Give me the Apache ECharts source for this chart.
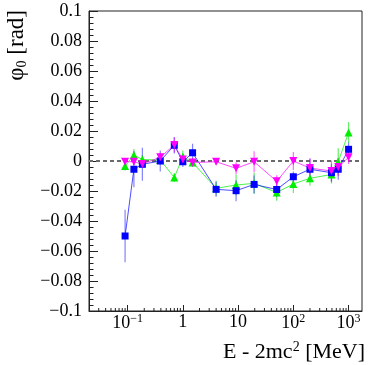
<!DOCTYPE html>
<html><head><meta charset="utf-8">
<script src="https://cdn.jsdelivr.net/npm/echarts@6/dist/echarts.min.js"></script>
<style>html,body{margin:0;padding:0;background:#fff}#c{width:374px;height:365px}</style>
</head><body><div id="c"></div>
<script>
const energies = [0.09, 0.13, 0.185, 0.39, 0.70, 1.0, 1.5, 4.0, 9.2, 19.5, 50, 100, 200, 490, 650, 1000];
const blueVals = [-0.050, -0.0055, -0.0022, 0.0, 0.0105, -0.0005, 0.0055, -0.0189, -0.0198, -0.0156, -0.019, -0.0105, -0.0055, -0.0078, -0.0055, 0.0078];
const blueErr  = [0.0175, 0.012, 0.011, 0.007, 0.0055, 0.0035, 0.006, 0.005, 0.007, 0.006, 0.005, 0.0035, 0.007, 0.006, 0.007, 0.0045];
const greenVals = [-0.0033, 0.004, 0.001, 0.0007, -0.011, 0.003, -0.001, -0.0182, -0.016, -0.0149, -0.021, -0.0153, -0.0115, -0.009, -0.0005, 0.019];
const greenErr  = [0.003, 0.004, 0.003, 0.003, 0.003, 0.004, 0.003, 0.005, 0.007, 0.007, 0.0055, 0.006, 0.005, 0.006, 0.009, 0.007];
const magVals = [-0.0005, -0.0005, -0.002, 0.0025, 0.0107, 0.001, -0.001, -0.0005, -0.0049, -0.0005, -0.0135, 0.0, -0.0047, -0.0067, -0.004, 0.0025];
const magErr  = [0.002, 0.002, 0.002, 0.003, 0.005, 0.003, 0.003, 0.002, 0.004, 0.007, 0.004, 0.006, 0.0065, 0.007, 0.006, 0.0045];
const xMin = 0.02, xMax = 1750, yMin = -0.1, yMax = 0.1;
const minorTickE = [];
[0.01, 0.1, 1, 10, 100, 1000].forEach(d => { for (let k = 2; k <= 9; k++) { const e = k * d; if (e > xMin && e < xMax) minorTickE.push(e); } });

const FONT = 'Liberation Serif';
const chart = echarts.init(document.getElementById('c'));

function pts(vals) { return energies.map((e, i) => [e, vals[i]]); }
function errData(vals, errs) { return energies.map((e, i) => [e, vals[i], errs[i]]); }
function errSeries(vals, errs, color) {
  return {
    type: 'custom', z: 2, silent: true,
    data: errData(vals, errs),
    encode: { x: 0, y: 1 },
    renderItem: function (params, api) {
      const x = api.value(0), y = api.value(1), e = api.value(2);
      const p1 = api.coord([x, y - e]), p2 = api.coord([x, y + e]);
      return { type: 'line', shape: { x1: p1[0], y1: p1[1], x2: p2[0], y2: p2[1] },
        style: { stroke: color, lineWidth: 1.2, opacity: 0.6 } };
    }
  };
}
function lineSeries(vals, color, symbol, rot, size) {
  return {
    type: 'line', z: 3, data: pts(vals), symbol: symbol, symbolRotate: rot, symbolSize: size,
    showAllSymbol: true,
    itemStyle: { color: color, opacity: 1 },
    lineStyle: { color: color, width: 1, opacity: 0.7 },
    emphasis: { disabled: true }, animation: false
  };
}

chart.setOption({
  animation: false,
  grid: { left: 89, right: 12, top: 11, bottom: 54, show: true, borderColor: '#222', borderWidth: 1, backgroundColor: 'transparent' },
  xAxis: {
    type: 'log', min: xMin, max: xMax, logBase: 10,
    axisLine: { show: true, onZero: false, lineStyle: { color: '#222', width: 1 } },
    axisTick: { show: true, inside: true, length: 6, lineStyle: { color: '#222' } },
    minorTick: { show: false },
    splitLine: { show: false },
    axisLabel: {
      showMinLabel: false, showMaxLabel: false, margin: 2,
      fontFamily: FONT, fontSize: 18, color: '#000',
      formatter: function (v) {
        const l = Math.round(Math.log10(v));
        if (Math.abs(Math.log10(v) - l) > 1e-6) return '';
        if (l === 0) return '1';
        if (l === 1) return '10';
        return '10{sup|' + (l < 0 ? '\u2212' + (-l) : l) + '}';
      },
      rich: { sup: { fontFamily: FONT, fontSize: 12, verticalAlign: 'top', padding: [0, 0, 8, 0] } }
    }
  },
  yAxis: {
    type: 'value', min: yMin, max: yMax, interval: 0.02,
    axisLine: { show: true, lineStyle: { color: '#222', width: 1 } },
    axisTick: { show: true, inside: true, length: 9, lineStyle: { color: '#222' } },
    minorTick: { show: true, splitNumber: 5, length: 4.5, lineStyle: { color: '#222' } },
    splitLine: { show: false },
    axisLabel: {
      margin: 7, fontFamily: FONT, fontSize: 18, color: '#000',
      formatter: function (v) {
        const r = Math.round(v * 1000) / 1000;
        if (r === 0) return '0';
        return (r < 0 ? '\u2212' : '') + String(Math.abs(r));
      }
    }
  },
  series: [
    {
      type: 'custom', z: 4, silent: true, data: minorTickE.map(e => [e, yMin]),
      renderItem: function (params, api) {
        const p = api.coord([api.value(0), api.value(1)]);
        return { type: 'line', shape: { x1: p[0], y1: p[1], x2: p[0], y2: p[1] - 3 }, style: { stroke: '#222', lineWidth: 1 } };
      }
    },
    {
      type: 'line', z: 1, data: [[xMin, 0], [xMax, 0]], symbol: 'none', silent: true,
      lineStyle: { color: '#6a6a6a', width: 2, type: [4, 3] }
    },
    errSeries(greenVals, greenErr, '#00e000'),
    errSeries(blueVals, blueErr, '#3030ff'),
    errSeries(magVals, magErr, '#ff00ff'),
    lineSeries(greenVals, '#00ee00', 'triangle', 0, 8),
    lineSeries(blueVals, '#0000ff', 'rect', 0, 7),
    lineSeries(magVals, '#ff00ff', 'triangle', 180, 8)
  ],
  graphic: [
    {
      type: 'text', x: 17, y: 10, rotation: Math.PI / 2,
      style: {
        text: '\u03c6{sub|0} [rad]', fontFamily: FONT, fontSize: 23, fill: '#000',
        align: 'right', verticalAlign: 'middle',
        rich: { sub: { fontFamily: FONT, fontSize: 14, verticalAlign: 'bottom', padding: [10, 0, 0, 0] } }
      }
    },
    {
      type: 'text', x: 365, y: 352,
      style: {
        text: 'E - 2mc{sup|2} [MeV]', fontFamily: FONT, fontSize: 22, fill: '#000',
        align: 'right', verticalAlign: 'middle',
        rich: { sup: { fontFamily: FONT, fontSize: 14, verticalAlign: 'top', padding: [0, 0, 9, 0] } }
      }
    }
  ]
});
</script></body></html>
